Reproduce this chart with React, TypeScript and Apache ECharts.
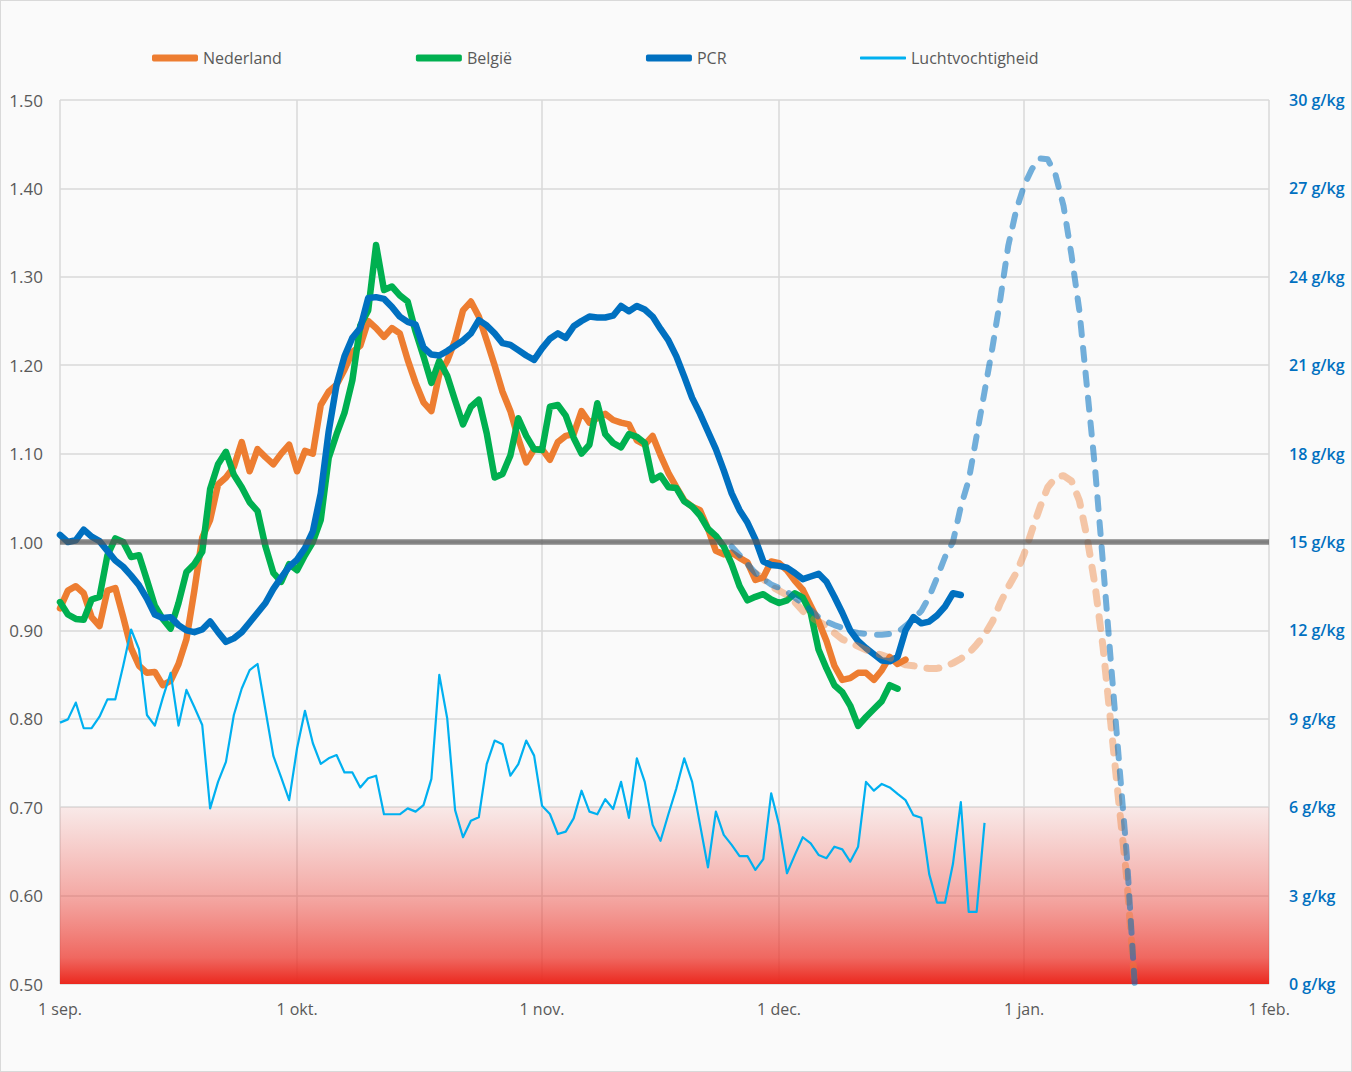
import React, { useEffect, useRef } from 'react';
import * as echarts from 'echarts';

// x = days since 1 sep.
const monthStarts = [0, 30, 61, 91, 122, 153];
const monthLabels = ['1 sep.', '1 okt.', '1 nov.', '1 dec.', '1 jan.', '1 feb.'];

const nederland = [
  0.925, 0.945, 0.950, 0.942, 0.915, 0.905, 0.945, 0.948, 0.915, 0.880,
  0.860, 0.852, 0.853, 0.838, 0.843, 0.862, 0.890, 0.945, 1.005, 1.025,
  1.065, 1.073, 1.085, 1.113, 1.080, 1.105, 1.096, 1.088, 1.100, 1.110,
  1.080, 1.103, 1.100, 1.155, 1.170, 1.178, 1.195, 1.215, 1.222, 1.250,
  1.242, 1.232, 1.242, 1.236, 1.206, 1.180, 1.158, 1.148, 1.190, 1.205,
  1.228, 1.262, 1.272, 1.255, 1.228, 1.200, 1.170, 1.148, 1.117, 1.090,
  1.105, 1.105, 1.093, 1.113, 1.120, 1.122, 1.148, 1.135, 1.140, 1.145,
  1.138, 1.135, 1.133, 1.115, 1.110, 1.120, 1.098, 1.078, 1.062, 1.047,
  1.040, 1.036, 1.015, 0.990, 0.986, 0.988, 0.982, 0.977, 0.957, 0.960,
  0.978, 0.976, 0.968, 0.956, 0.946, 0.928, 0.910, 0.888, 0.860, 0.844,
  0.846, 0.852, 0.852, 0.844, 0.855, 0.870, 0.862, 0.867,
];

const belgie = [
  0.932, 0.918, 0.913, 0.912, 0.935, 0.938, 0.985, 1.004, 1.000, 0.983,
  0.985, 0.957, 0.928, 0.913, 0.902, 0.931, 0.966, 0.975, 0.989, 1.060,
  1.088, 1.102, 1.076, 1.062, 1.045, 1.035, 0.995, 0.965, 0.955, 0.975,
  0.968, 0.985, 1.000, 1.025, 1.095, 1.122, 1.146, 1.183, 1.245, 1.262,
  1.336, 1.285, 1.289, 1.279, 1.272, 1.238, 1.210, 1.180, 1.205, 1.188,
  1.160, 1.133, 1.153, 1.161, 1.123, 1.073, 1.077, 1.098, 1.140, 1.120,
  1.105, 1.104, 1.153, 1.155, 1.143, 1.118, 1.100, 1.110, 1.157, 1.122,
  1.112, 1.107, 1.122, 1.119, 1.112, 1.070, 1.075, 1.062, 1.061, 1.046,
  1.040, 1.030, 1.015, 1.007, 0.995, 0.975, 0.950, 0.934, 0.938, 0.941,
  0.935, 0.931, 0.934, 0.942, 0.937, 0.920, 0.878, 0.857, 0.838, 0.830,
  0.815, 0.792, 0.802, 0.811, 0.820, 0.838, 0.834,
];

const pcr = [
  1.008, 1.000, 1.002, 1.014, 1.006, 1.001, 0.990, 0.979, 0.972, 0.962,
  0.951, 0.936, 0.918, 0.914, 0.915, 0.906, 0.900, 0.898, 0.901, 0.910,
  0.898, 0.887, 0.891, 0.898, 0.909, 0.920, 0.931, 0.947, 0.960, 0.972,
  0.980, 0.993, 1.012, 1.055, 1.125, 1.178, 1.210, 1.231, 1.242, 1.276,
  1.277, 1.275, 1.266, 1.255, 1.249, 1.246, 1.220, 1.212, 1.211, 1.216,
  1.222, 1.228, 1.236, 1.251, 1.245, 1.236, 1.225, 1.223, 1.217, 1.211,
  1.206, 1.219, 1.230, 1.236, 1.231, 1.244, 1.250, 1.255, 1.254, 1.254,
  1.256, 1.267, 1.261, 1.267, 1.263, 1.255, 1.241, 1.228, 1.210, 1.187,
  1.163, 1.145, 1.125, 1.105, 1.081, 1.055, 1.036, 1.022, 1.003, 0.978,
  0.974, 0.973, 0.971, 0.965, 0.958, 0.961, 0.964, 0.955, 0.938, 0.920,
  0.900, 0.888, 0.880, 0.873, 0.866, 0.865, 0.870, 0.900, 0.915, 0.908,
  0.910, 0.917, 0.927, 0.942, 0.940,
];

// g/kg, right axis
const luchtvochtigheid = [
  8.87, 8.98, 9.55, 8.68, 8.68, 9.07, 9.66, 9.66, 10.8, 12.03,
  11.36, 9.13, 8.77, 9.7, 10.56, 8.77, 9.98, 9.4, 8.79, 5.96,
  6.86, 7.54, 9.13, 10.03, 10.65, 10.86, 9.3, 7.74, 7.0, 6.24,
  8.0, 9.27, 8.17, 7.47, 7.66, 7.77, 7.18, 7.18, 6.67, 6.98,
  7.07, 5.76, 5.76, 5.76, 5.96, 5.85, 6.07, 6.96, 10.49, 9.02,
  5.9, 4.98, 5.54, 5.66, 7.46, 8.26, 8.14, 7.07, 7.46, 8.26,
  7.75, 6.05, 5.77, 5.09, 5.17, 5.62, 6.56, 5.85, 5.76, 6.27,
  5.94, 6.86, 5.64, 7.66, 6.86, 5.4, 4.86, 5.77, 6.64, 7.66,
  6.86, 5.4, 3.96, 5.85, 5.06, 4.72, 4.34, 4.34, 3.87, 4.24,
  6.47, 5.4, 3.76, 4.38, 4.98, 4.77, 4.38, 4.27, 4.66, 4.57,
  4.15, 4.66, 6.86, 6.56, 6.79, 6.67, 6.45, 6.24, 5.73, 5.64,
  3.73, 2.76, 2.76, 4.07, 6.17, 2.45, 2.45, 5.47,
];

const pcrProjectieStart = 85;
const pcrProjectie = [
  0.995, 0.985, 0.975, 0.965, 0.958, 0.952, 0.948, 0.944, 0.937, 0.930,
  0.923, 0.915, 0.910, 0.906, 0.903, 0.899, 0.897, 0.896, 0.895, 0.895,
  0.896, 0.898, 0.905, 0.913, 0.922, 0.938, 0.960, 0.983, 1.000, 1.040,
  1.070, 1.120, 1.170, 1.220, 1.275, 1.335, 1.375, 1.403, 1.422, 1.434,
  1.433, 1.415, 1.380, 1.325, 1.262, 1.172, 1.082, 0.975, 0.863, 0.754,
  0.646, 0.500,
];

const nlProjectieStart = 88;
const nlProjectie = [
  0.965, 0.958, 0.950, 0.945, 0.940, 0.932, 0.922, 0.915, 0.910, 0.905,
  0.897, 0.890, 0.886, 0.882, 0.878, 0.875, 0.872, 0.869, 0.865, 0.861,
  0.860, 0.858, 0.857, 0.857, 0.859, 0.863, 0.868, 0.874, 0.884, 0.895,
  0.910, 0.931, 0.949, 0.965, 0.986, 1.013, 1.039, 1.062, 1.073, 1.075,
  1.069, 1.047, 1.004, 0.950, 0.881, 0.793, 0.705, 0.620, 0.500,
];

const toPairs = (vals: number[], start = 0) => vals.map((v, i) => [start + i, v]);

const FONT = '"Open Sans", "Noto Sans", sans-serif';
const GRAY = '#595959';

export default function App() {
  const ref = useRef<HTMLDivElement>(null);

  useEffect(() => {
    const chart = echarts.init(ref.current!, null, { renderer: 'svg' });
    const redGradient = new echarts.graphic.LinearGradient(0, 0, 0, 1, [
      { offset: 0, color: 'rgba(236,80,70,0.10)' },
      { offset: 0.5, color: 'rgba(236,70,60,0.45)' },
      { offset: 0.85, color: 'rgba(236,55,45,0.75)' },
      { offset: 1, color: 'rgba(235,40,30,1)' },
    ]);
    const legendText = { color: GRAY, fontSize: 16, fontFamily: FONT };
    chart.setOption({
      animation: false,
      backgroundColor: '#fafafa',
      textStyle: { fontFamily: FONT },
      legend: [
        {
          left: 151,
          top: 49,
          padding: 0,
          icon: 'roundRect',
          itemWidth: 46,
          itemHeight: 7,
          itemGap: 134,
          textStyle: legendText,
          data: ['Nederland', 'België', 'PCR'],
        },
        {
          left: 859,
          top: 49,
          padding: 0,
          icon: 'roundRect',
          itemWidth: 46,
          itemHeight: 3,
          textStyle: legendText,
          data: ['Luchtvochtigheid'],
        },
      ],
      grid: { left: 59, right: 82, top: 99, bottom: 87 },
      xAxis: {
        type: 'value',
        min: 0,
        max: 153,
        axisLine: { show: false },
        axisTick: { show: false, customValues: monthStarts },
        splitLine: { show: false },
        axisLabel: {
          customValues: monthStarts,
          formatter: (v: number) => {
            const i = monthStarts.indexOf(Math.round(v));
            return i >= 0 ? monthLabels[i] : '';
          },
          color: GRAY,
          fontSize: 16,
          fontFamily: FONT,
          margin: 17,
        },
      },
      yAxis: [
        {
          type: 'value',
          min: 0.5,
          max: 1.5,
          interval: 0.1,
          axisLine: { show: false },
          axisTick: { show: false },
          splitLine: { lineStyle: { color: '#d9d9d9', width: 1.5 } },
          axisLabel: {
            formatter: (v: number) => v.toFixed(2),
            color: GRAY,
            fontSize: 17,
            fontFamily: FONT,
            margin: 17,
          },
        },
        {
          type: 'value',
          min: 0,
          max: 30,
          interval: 3,
          position: 'right',
          axisLine: { show: false },
          axisTick: { show: false },
          splitLine: { show: false },
          axisLabel: {
            formatter: (v: number) => `${v} g/kg`,
            color: '#0070c0',
            fontSize: 16,
            fontWeight: 600,
            fontFamily: FONT,
            margin: 20,
          },
        },
      ],
      series: [
        {
          name: 'Nederland',
          type: 'line',
          data: toPairs(nederland),
          symbol: 'none',
          lineStyle: { color: '#ed7d31', width: 6.5, cap: 'round', join: 'round' },
          itemStyle: { color: '#ed7d31' },
          markLine: {
            silent: true,
            z: 0,
            symbol: ['none', 'none'],
            label: { show: false },
            lineStyle: { color: '#d9d9d9', width: 1.5, type: 'solid' },
            data: monthStarts.map((v) => ({ xAxis: v })),
          },
          markArea: {
            silent: true,
            z: 1,
            itemStyle: { color: redGradient },
            data: [[{ xAxis: 0, yAxis: 0.5 }, { xAxis: 153, yAxis: 0.7 }]],
          },
        },
        {
          name: 'België',
          type: 'line',
          data: toPairs(belgie),
          symbol: 'none',
          lineStyle: { color: '#00b050', width: 6.5, cap: 'round', join: 'round' },
          itemStyle: { color: '#00b050' },
        },
        {
          name: 'PCR',
          type: 'line',
          data: toPairs(pcr),
          symbol: 'none',
          lineStyle: { color: '#0070c0', width: 6.5, cap: 'round', join: 'round' },
          itemStyle: { color: '#0070c0' },
        },
        {
          name: 'Luchtvochtigheid',
          type: 'line',
          yAxisIndex: 1,
          data: toPairs(luchtvochtigheid),
          symbol: 'none',
          lineStyle: { color: '#00b0f0', width: 2.2, join: 'round' },
          itemStyle: { color: '#00b0f0' },
        },
        {
          name: 'Nederland prognose',
          type: 'line',
          data: toPairs(nlProjectie, nlProjectieStart),
          symbol: 'none',
          lineStyle: { color: 'rgba(237,125,49,0.42)', width: 7, type: [12, 13], cap: 'round', join: 'round' },
          itemStyle: { color: 'rgba(237,125,49,0.42)' },
        },
        {
          name: 'PCR prognose',
          type: 'line',
          data: toPairs(pcrProjectie, pcrProjectieStart),
          symbol: 'none',
          lineStyle: { color: 'rgba(0,112,192,0.55)', width: 6, type: [12, 13], cap: 'round', join: 'round' },
          itemStyle: { color: 'rgba(0,112,192,0.55)' },
          markLine: {
            silent: true,
            z: 5,
            symbol: ['none', 'none'],
            label: { show: false },
            lineStyle: { color: 'rgba(85,85,85,0.7)', width: 5.5, type: 'solid' },
            data: [{ yAxis: 1 }],
          },
        },
      ],
    });
    return () => chart.dispose();
  }, []);

  return (
    <div
      style={{
        position: 'absolute',
        left: 0,
        top: 0,
        width: 1352,
        height: 1072,
        boxSizing: 'border-box',
        border: '1px solid #d9d9d9',
        background: '#fafafa',
      }}
    >
      <div ref={ref} style={{ width: 1350, height: 1070 }} />
    </div>
  );
}
